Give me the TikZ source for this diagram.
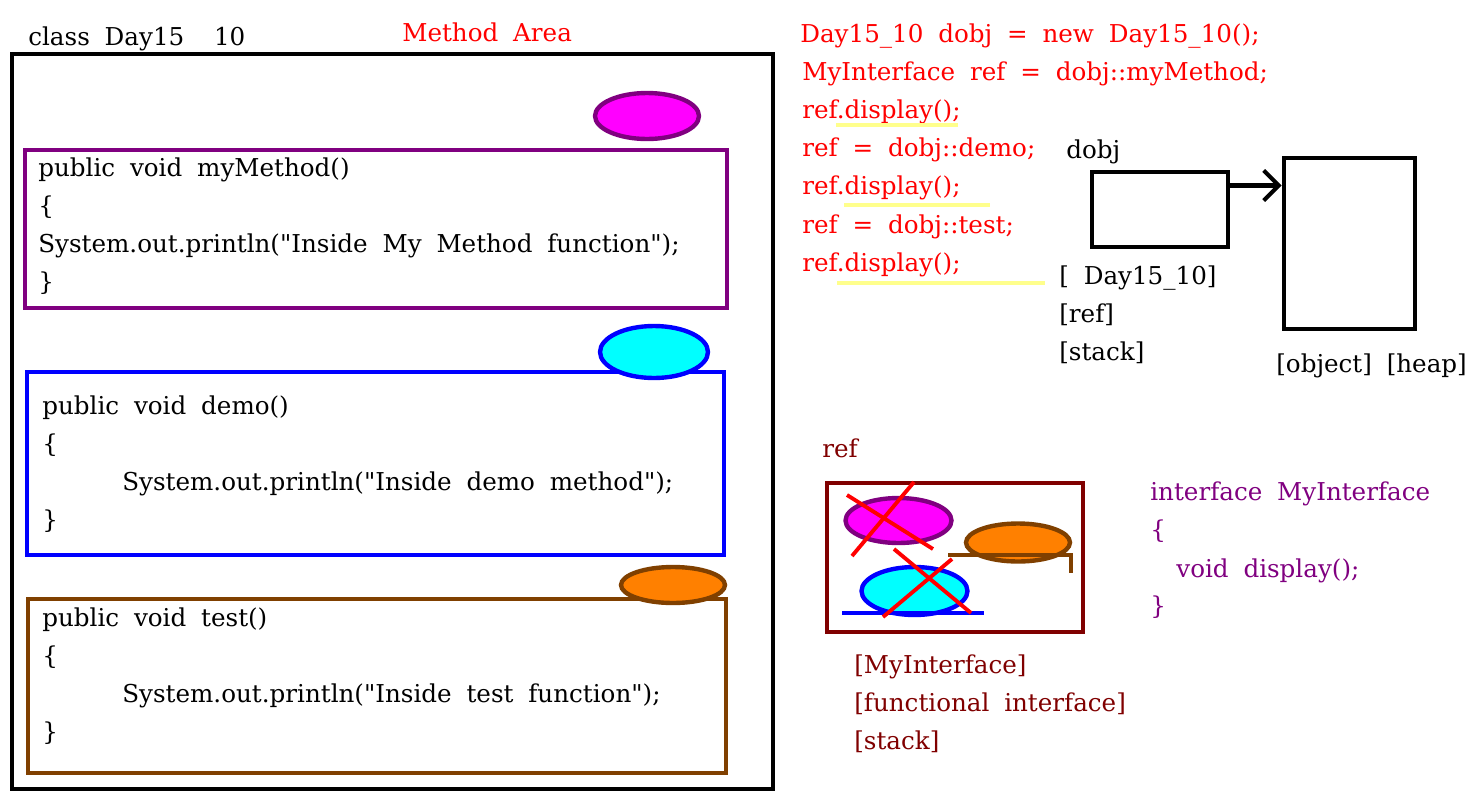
\documentclass[tikz,border=0pt]{standalone}
\usepackage{fontspec}
\setmainfont{DejaVu Serif}[WordSpace=1.9, Ligatures=TeXOff]
\usetikzlibrary{arrows.meta}
\definecolor{purpmeth}{RGB}{128,0,128}
\definecolor{magmeth}{RGB}{255,0,255}
\definecolor{bluemeth}{RGB}{0,0,255}
\definecolor{cyanmeth}{RGB}{0,255,255}
\definecolor{brownmeth}{RGB}{128,64,0}
\definecolor{orangemeth}{RGB}{255,128,0}
\definecolor{darkref}{RGB}{128,0,0}
\definecolor{redcode}{RGB}{255,0,0}
\definecolor{hilite}{RGB}{255,255,140}

\begin{document}
\begin{tikzpicture}[x=0.02cm, y=-0.02cm,
      txt/.style={anchor=base west, inner sep=0pt, font=\fontsize{14}{17}\selectfont},
      mbox/.style={draw, line width=2.3pt},
      blob/.style={line width=2.5pt},
      cross/.style={draw=redcode, line width=2.2pt},
      >={Straight Barb[length=0.3cm, width=0.6cm, line width=2.3pt]}]
    \useasboundingbox (0,0) rectangle (1481,795);

    % method area
    \draw[line width=2.8pt] (12,54) rectangle (773,789);
    \node[txt] (cls) at (28,45) {class Day15~~10};
    \node[txt, text=redcode] (area) at (402,41) {Method Area};

    % myMethod
    \draw[mbox, draw=purpmeth] (25,150) rectangle (727,308);
    \draw[blob, draw=purpmeth, fill=magmeth] (647,116) ellipse [x radius=1.04cm, y radius=0.46cm];
    \foreach \t [count=\i] in {public void myMethod(), \{,
        {System.out.println("Inside My Method function");}, \}} {
      \node[txt] (my\i) at (38,{176+38*(\i-1)}) {\t};
    }

    % demo
    \draw[mbox, draw=bluemeth] (27,372) rectangle (724,555);
    \draw[blob, draw=bluemeth, fill=cyanmeth] (654,352) ellipse [x radius=1.08cm, y radius=0.52cm];
    \node[txt] (dm1) at (42,414) {public void demo()};
    \node[txt] (dm2) at (42,452) {\{};
    \node[txt] (dm3) at (122,490) {System.out.println("Inside demo method");};
    \node[txt] (dm4) at (42,528) {\}};

    % test
    \draw[mbox, draw=brownmeth] (28,599) rectangle (726,773);
    \draw[blob, draw=brownmeth, fill=orangemeth] (673,585) ellipse [x radius=1.04cm, y radius=0.36cm];
    \node[txt] (ts1) at (42,626) {public void test()};
    \node[txt] (ts2) at (42,664) {\{};
    \node[txt] (ts3) at (122,702) {System.out.println("Inside test function");};
    \node[txt] (ts4) at (42,740) {\}};

    % main code
    \node[txt, text=redcode] (c1) at (800,42) {Day15\_10 dobj = new Day15\_10();};
    \foreach \t [count=\i from 2] in {{MyInterface ref = dobj::myMethod;}, {ref.display();},
        {ref = dobj::demo;}, {ref.display();}, {ref = dobj::test;}, {ref.display();}} {
      \node[txt, text=redcode] (c\i) at (802,{42+38.2*(\i-1)}) {\t};
    }
    \draw[hilite, line width=2.5pt] (836,125) -- (958,125);
    \draw[hilite, line width=2.5pt] (844,205) -- (990,205);
    \draw[hilite, line width=2.5pt] (837,283) -- (1045,283);

    % stack and heap
    \node[txt] (dlab) at (1066,158) {dobj};
    \node[mbox, line width=2.8pt, minimum width=2.72cm, minimum height=1.5cm] (dobj) at (1160,209.5) {};
    \node[mbox, line width=2.8pt, minimum width=2.62cm, minimum height=3.42cm] (obj) at (1349.5,243.5) {};
    \coordinate (ar) at (1240,185.5);
    \draw[->, line width=2.3pt] (dobj.east |- ar) -- (obj.west |- ar);
    \node[txt] (s1) at (1059,284) {[ Day15\_10]};
    \node[txt] (s2) at (1059,322) {[ref]};
    \node[txt] (s3) at (1059,360) {[stack]};
    \node[txt] (heap) at (1276,372) {[object] [heap]};

    % ref variable
    \node[txt, text=darkref] (rlab) at (822,457) {ref};
    \draw[mbox, draw=darkref, line width=2.6pt] (827,483) rectangle (1083,632);
    \draw[blob, draw=purpmeth, fill=magmeth] (898.5,520.5) ellipse [x radius=1.06cm, y radius=0.45cm];
    \draw[blob, draw=brownmeth, fill=orangemeth] (1018,542.5) ellipse [x radius=1.04cm, y radius=0.38cm];
    \draw[blob, draw=brownmeth] (948,555) -- (1071,555) -- (1071,573);
    \draw[blob, draw=bluemeth, fill=cyanmeth] (914.5,591) ellipse [x radius=1.06cm, y radius=0.48cm];
    \draw[blob, draw=bluemeth] (842,613) -- (984,613);
    \draw[cross] (847,495) -- (933,549);
    \draw[cross] (914,482) -- (852,556);
    \draw[cross] (894,549) -- (971,613);
    \draw[cross] (952,559) -- (883,617);
    \node[txt, text=darkref] (r1) at (854,673) {[MyInterface]};
    \node[txt, text=darkref] (r2) at (854,711) {[functional interface]};
    \node[txt, text=darkref] (r3) at (854,749) {[stack]};

    % interface
    \node[txt, text=purpmeth] (if1) at (1150,500) {interface MyInterface};
    \node[txt, text=purpmeth] (if2) at (1150,538) {\{};
    \node[txt, text=purpmeth] (if3) at (1176,577) {void display();};
    \node[txt, text=purpmeth] (if4) at (1150,614) {\}};
  \end{tikzpicture}
\end{document}
